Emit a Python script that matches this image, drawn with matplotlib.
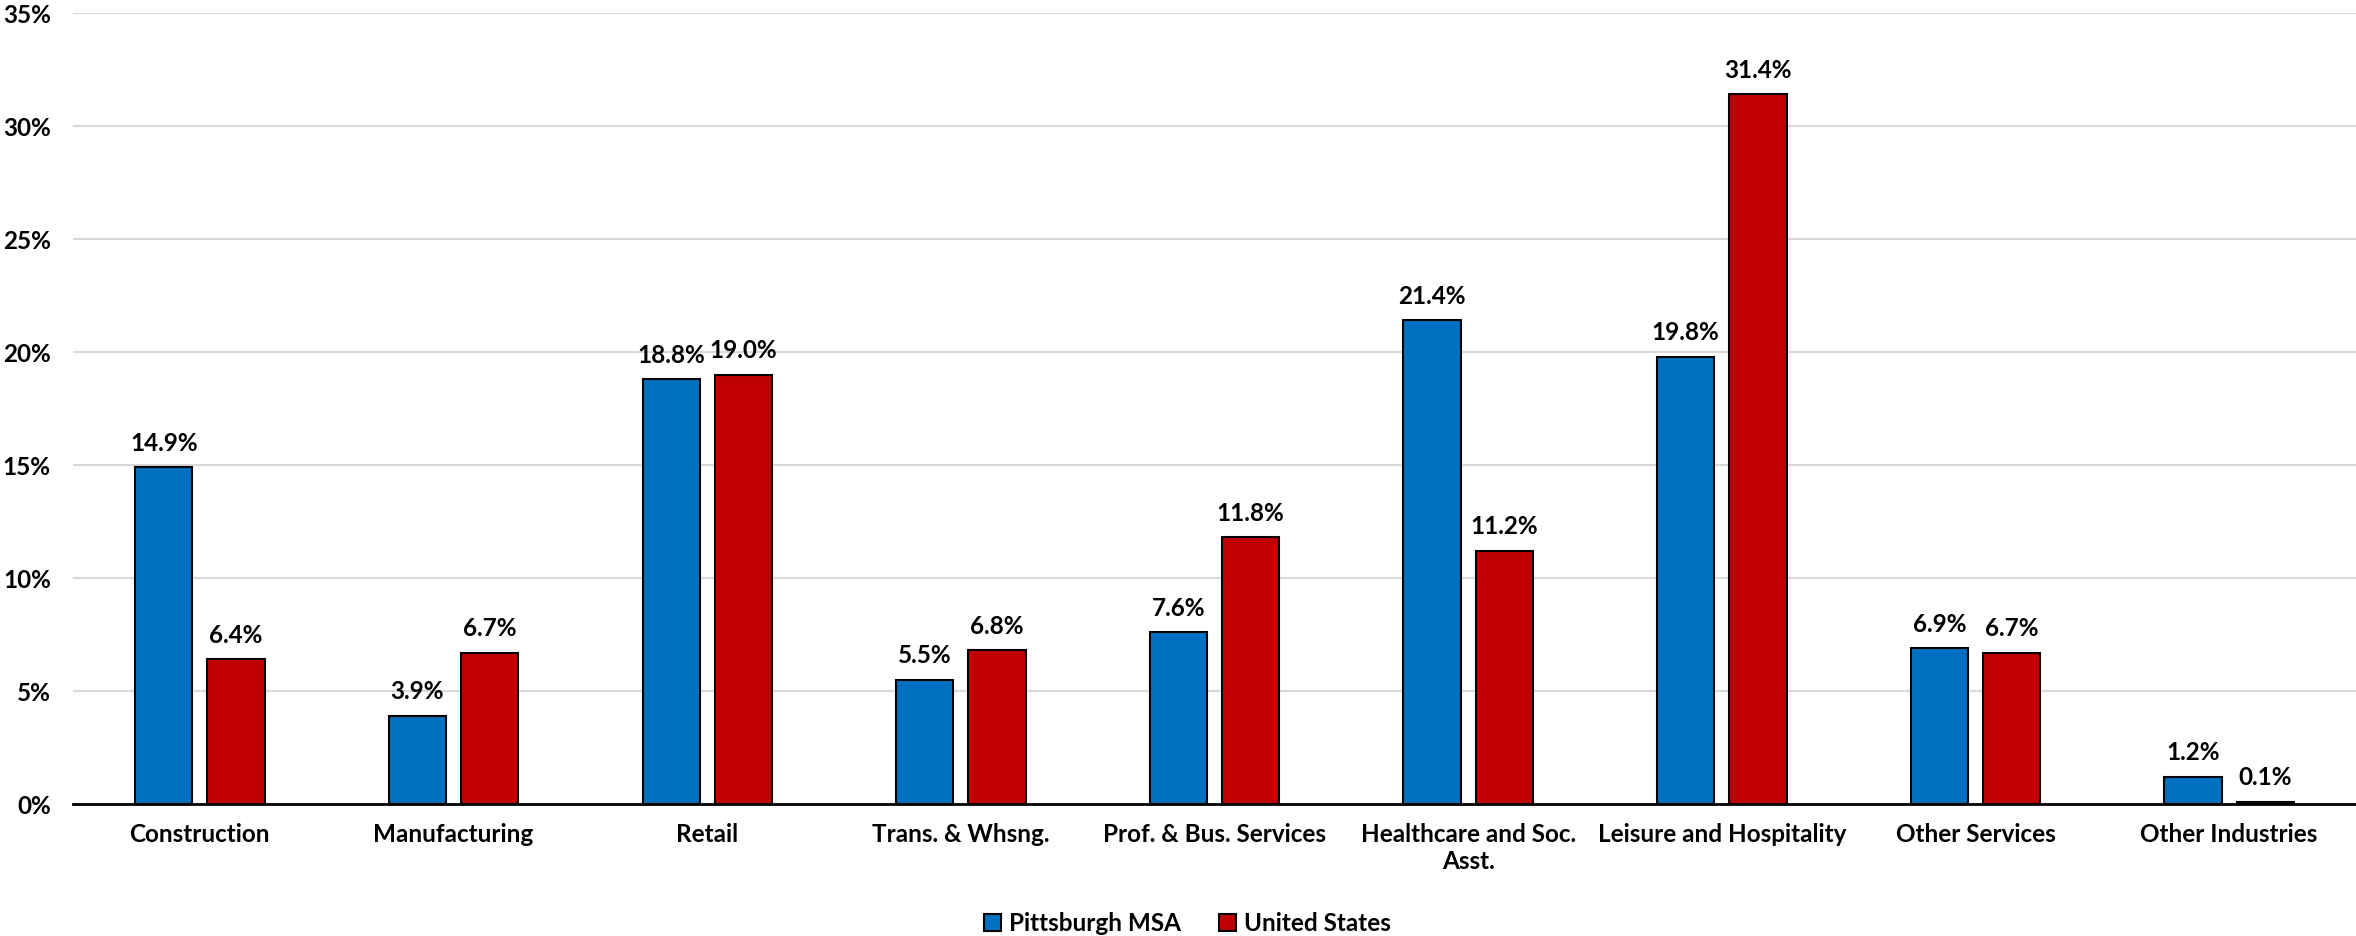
import matplotlib.pyplot as plt
import numpy as np
from matplotlib.ticker import FuncFormatter

categories = ['Construction', 'Manufacturing', 'Retail', 'Trans. & Whsng.',
              'Prof. & Bus. Services', 'Healthcare and Soc.\nAsst.',
              'Leisure and Hospitality', 'Other Services', 'Other Industries']
pittsburgh = [14.9, 3.9, 18.8, 5.5, 7.6, 21.4, 19.8, 6.9, 1.2]
united_states = [6.4, 6.7, 19.0, 6.8, 11.8, 11.2, 31.4, 6.7, 0.1]

plt.rcParams['font.family'] = ['Lato', 'DejaVu Sans']
plt.rcParams['font.weight'] = 'bold'
FS = 17.5

fig = plt.figure(figsize=(23.56, 9.36), dpi=100)
ax = fig.add_axes([0.031, 0.141, 0.969, 0.845])

x = np.arange(len(categories))
w = 0.225
off = 0.1425
b1 = ax.bar(x - off, pittsburgh, width=w, color='#0070C0', edgecolor='black',
            linewidth=1.5, label='Pittsburgh MSA', zorder=3)
b2 = ax.bar(x + off, united_states, width=w, color='#C00000', edgecolor='black',
            linewidth=1.5, label='United States', zorder=3)

for bars, vals in ((b1, pittsburgh), (b2, united_states)):
    for r, v in zip(bars, vals):
        ax.annotate(f'{v:.1f}%', (r.get_x() + r.get_width() / 2, v),
                    xytext=(0, 9), textcoords='offset points',
                    ha='center', va='bottom', fontsize=FS, fontweight='bold')

ax.set_xlim(-0.5, len(categories) - 0.5)
ax.set_ylim(0, 35)
ax.set_yticks(np.arange(0, 36, 5))
ax.yaxis.set_major_formatter(FuncFormatter(lambda v, p: f'{v:.0f}%'))
ax.set_xticks(x, categories)
ax.tick_params(axis='both', length=0, labelsize=FS)
ax.tick_params(axis='y', pad=16)
ax.tick_params(axis='x', pad=14)
for lab in ax.get_xticklabels() + ax.get_yticklabels():
    lab.set_fontweight('bold')

ax.grid(axis='y', color='#D9D9D9', linewidth=1.5, zorder=0)
ax.set_axisbelow(True)
for s in ('left', 'right', 'top'):
    ax.spines[s].set_visible(False)
ax.spines['bottom'].set_linewidth(2)
ax.spines['bottom'].set_zorder(4)

fig.legend(handles=[b1, b2], loc='lower center', bbox_to_anchor=(0.504, -0.022),
           ncol=2, frameon=False, fontsize=FS, handlelength=0.7,
           handleheight=0.7, handletextpad=0.3, columnspacing=1.6)

fig.savefig('out.png', dpi=100)
